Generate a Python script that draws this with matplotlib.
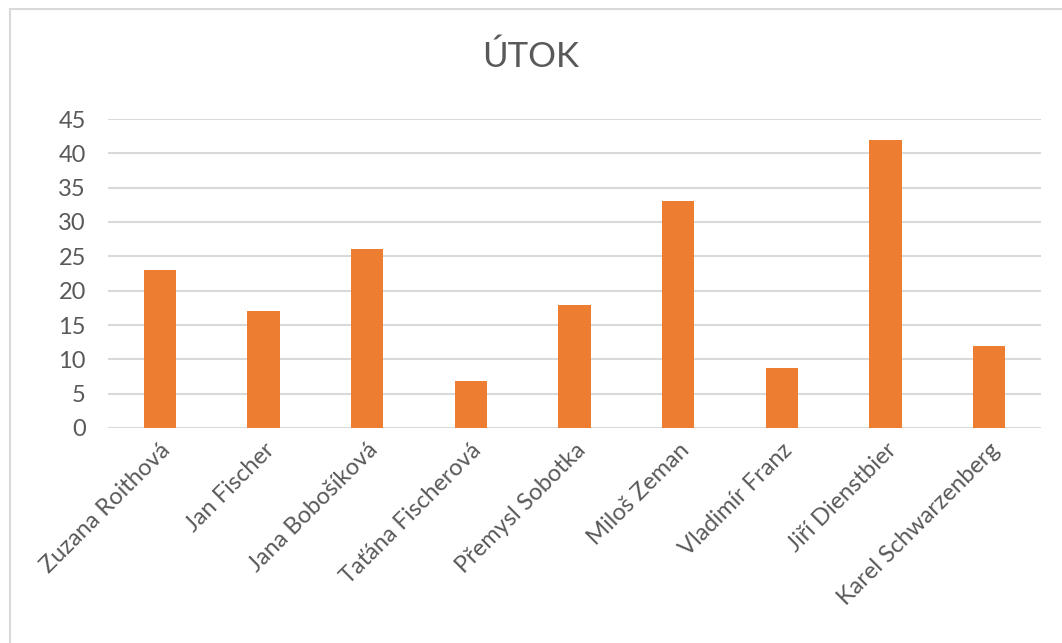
import matplotlib
matplotlib.use("Agg")
import matplotlib.pyplot as plt
from matplotlib.patches import Rectangle

categories = ["Zuzana Roithová", "Jan Fischer", "Jana Bobošíková", "Taťána Fischerová",
              "Přemysl Sobotka", "Miloš Zeman", "Vladimír Franz", "Jiří Dienstbier",
              "Karel Schwarzenberg"]
values = [23, 17, 26, 6.8, 17.9, 33, 8.8, 42, 11.9]
yticks = [0, 5, 10, 15, 20, 25, 30, 35, 40, 45]
title = "ÚTOK"

plt.rcParams['font.family'] = ['Lato', 'DejaVu Sans']

W, H = 1062, 643
fig = plt.figure(figsize=(W / 100, H / 100), dpi=100)
ax = fig.add_axes([108 / W, 1 - 428 / H, (1041 - 108) / W, (428 - 119) / H])

x = list(range(len(categories)))
ax.bar(x, values, width=0.31, color="#ED7D31", zorder=3)
ax.set_xlim(-0.5, len(categories) - 0.5)
ax.set_ylim(0, 45)
ax.set_yticks(yticks)
ax.set_xticks(x)
ax.set_xticklabels(categories, rotation=45, ha='right', rotation_mode='anchor',
                   fontsize=17, color="#595959")
ax.tick_params(axis='y', labelsize=17, labelcolor="#595959", length=0, pad=16)
ax.tick_params(axis='x', length=0, pad=8)
ax.yaxis.grid(True, color="#D9D9D9", linewidth=1.5, zorder=0)
for s in ax.spines.values():
    s.set_visible(False)

fig.text(0.5, 1 - 57 / H, title, ha='center', va='center', fontsize=25, color="#595959")

fig.patches.append(Rectangle((9.5 / W, -0.1), 1.2, 1.1 - 9.5 / H, transform=fig.transFigure,
                             fill=False, edgecolor="#D9D9D9", linewidth=1.5))

fig.savefig("out.png", dpi=100)
